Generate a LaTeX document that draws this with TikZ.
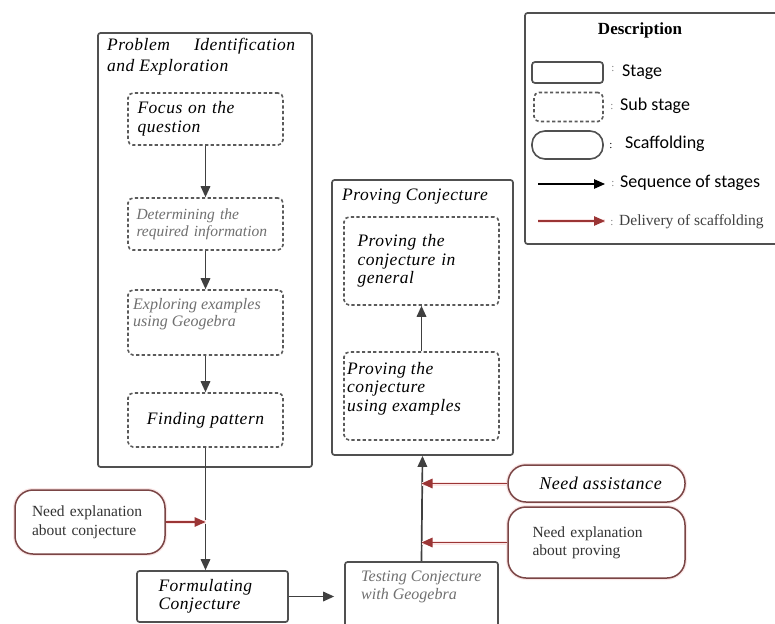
\documentclass[tikz,border=0pt]{standalone}
\usepackage{fontspec}
\setmainfont{Liberation Serif}
\newfontfamily\itf[LetterSpace=3]{Liberation Serif}
\newfontfamily\legf{Carlito}
\usetikzlibrary{arrows.meta}
\definecolor{lin}{HTML}{505050}
\definecolor{dsh}{HTML}{5A5A5A}
\definecolor{arr}{HTML}{404040}
\definecolor{gtxt}{HTML}{707070}
\definecolor{scafc}{HTML}{7A4545}
\definecolor{redarr}{HTML}{9B3535}
\definecolor{glow}{HTML}{FAE6E6}
\tikzset{
  stagebox/.style={draw=lin, line width=1.7pt, rounded corners=2.5pt, fill=white, inner sep=0pt},
  subbox/.style={draw=dsh, line width=1.6pt, dash pattern=on 3.2pt off 2.4pt, rounded corners=5pt, inner sep=0pt},
  scaf/.style={draw=scafc, line width=1.5pt, rounded corners=18pt, fill=white, inner sep=0pt,
     preaction={draw=glow, line width=4pt}},
  legscaf/.style={draw=lin, line width=1.6pt, rounded corners=13pt, fill=white, inner sep=0pt},
  seqarrow/.style={draw=arr, line width=1.7pt, -{Triangle[length=11pt,width=9.5pt]}},
  delarrow/.style={draw=redarr, line width=1.6pt, -{Triangle[length=11pt,width=9.5pt]}},
  glowline/.style={draw=glow, line width=4pt},
  itx/.style={font=\itf\itshape\fontsize{17.5}{18.5}\selectfont, align=left, inner sep=0pt},
  gtx/.style={font=\itshape\fontsize{15.5}{17}\selectfont, text=gtxt, align=left, inner sep=0pt},
  rtx/.style={font=\fontsize{15.5}{19}\selectfont, text=black!80, align=left, inner sep=0pt},
  legtx/.style={font=\legf\fontsize{18}{20}\selectfont, anchor=west, inner sep=0pt},
  colon/.style={font=\fontsize{11}{11}\selectfont, text=gray, inner sep=0pt},
}
\begin{document}
\begin{tikzpicture}[x=1pt,y=-1pt]
\useasboundingbox (0,0) rectangle (775,623);

% ---------- Problem identification stage ----------
\node[stagebox, minimum width=214pt, minimum height=434pt] (pie) at (205,250) {};
\node[itx, anchor=north west] (pietitle) at (107,38)
  {\makebox[188pt][l]{Problem\hfill Identification}\\[2pt]and Exploration};

\node[subbox, minimum width=155pt, minimum height=52pt] (s1) at (205.5,119) {};
\node[itx, text width=140pt] (s1t) at ([xshift=2pt]s1.center) {Focus on the\\question};

\node[subbox, minimum width=155pt, minimum height=52pt] (s2) at (205.5,224) {};
\node[gtx, text width=138pt] (s2t) at (s2.center) {Determining the\\required information};

\node[subbox, minimum width=155pt, minimum height=65pt] (s3) at (205.5,322.5) {};
\node[gtx, anchor=north west, font=\itshape\fontsize{16}{17}\selectfont] (s3t) at (133,298) {Exploring examples\\using Geogebra};

\node[subbox, minimum width=155pt, minimum height=54pt] (s4) at (205.5,420) {};
\node[itx] (s4t) at (s4.center) {Finding pattern};

\draw[seqarrow] (s1) -- (s2);
\draw[seqarrow] (s2) -- (s3);
\draw[seqarrow] (s3) -- (s4);

% ---------- Formulating & testing ----------
\node[stagebox, minimum width=151pt, minimum height=51pt] (form) at (212.5,596.5) {};
\node[itx, text width=104pt] (formt) at ([xshift=-2pt]form.center) {Formulating\\Conjecture};

\node[stagebox, minimum width=153pt, minimum height=70pt] (test) at (421.5,597) {};
\node[gtx, anchor=north west, font=\itshape\fontsize{16}{18}\selectfont] (testt) at (361,571) {Testing Conjecture\\with Geogebra};

\draw[seqarrow] (s4.south) -- (s4.south |- form.north);
\draw[seqarrow] (form.east) -- ([xshift=-10pt]test.west |- form.east);

% ---------- Proving stage ----------
\node[stagebox, minimum width=181pt, minimum height=275pt] (prov) at (422.5,317.5) {};
\node[itx, anchor=west] (provt) at (342,197) {Proving Conjecture};

\node[subbox, minimum width=155pt, minimum height=88pt] (pg) at (421.5,261) {};
\node[itx, text width=136pt] (pgt) at ([xshift=4pt]pg.center) {Proving the\\conjecture in\\general};

\node[subbox, minimum width=155pt, minimum height=88pt] (pe) at (421.5,396) {};
\node[itx, anchor=north west] (pet) at (347,362) {Proving the\\conjecture\\using examples};

\draw[seqarrow] (pe.north) -- (pg.south);
\draw[seqarrow] (test.north) -- (prov.south);

% ---------- Scaffolding ----------
\node[scaf, minimum width=150pt, minimum height=64pt] (sc1) at (90,522) {};
\node[rtx, text width=116pt] (sc1t) at (sc1.center) {Need explanation\\about conjecture};
\coordinate (m1) at (sc1.east -| s4.south);
\draw[glowline] (sc1.east) -- (m1);
\draw[delarrow] (sc1.east) -- (m1);

\node[scaf, minimum width=177pt, minimum height=37pt] (sc2) at (596.5,483.5) {};
\node[itx, font=\itf\itshape\fontsize{18}{18}\selectfont] (sc2t) at ([xshift=4pt]sc2.center) {Need assistance};
\coordinate (m2) at (sc2.west -| test.north);
\draw[glowline] (sc2.west) -- (m2);
\draw[delarrow] (sc2.west) -- (m2);

\node[scaf, minimum width=177pt, minimum height=71pt] (sc3) at (596.5,542.5) {};
\node[rtx, text width=120pt, font=\fontsize{15.5}{18}\selectfont] (sc3t) at ([xshift=-4pt]sc3.center) {Need explanation\\about proving};
\coordinate (m3) at (sc3.west -| test.north);
\draw[glowline] (sc3.west) -- (m3);
\draw[delarrow] (sc3.west) -- (m3);

% ---------- Legend ----------
\node[stagebox, minimum width=265pt, minimum height=231pt] (leg) at (657.5,128.5) {};
\node[font=\bfseries\fontsize{17}{18}\selectfont, inner sep=0pt] (legtitle) at (640,30) {Description};

\node[stagebox, minimum width=71pt, minimum height=21pt, rounded corners=3pt] (l1) at (567.5,72.5) {};
\node[colon] (c1) at (613,69) {:};
\node[legtx] (l1t) at (622,72) {Stage};

\node[subbox, minimum width=69pt, minimum height=29pt] (l2) at (568.5,107) {};
\node[colon] (c2) at (612,107) {:};
\node[legtx] (l2t) at (620,106) {Sub stage};

\node[legscaf, minimum width=71pt, minimum height=28pt] (l3) at (567.5,145) {};
\node[colon, text=black] (c3) at (611,146) {:};
\node[legtx] (l3t) at (625,144) {Scaffolding};

\coordinate (a1s) at (538,184);
\coordinate (a1e) at (605,184);
\draw[seqarrow, draw=black, line width=1.2pt] (a1s) -- (a1e);
\node[colon] (c4) at (613,184) {:};
\node[legtx] (l4t) at (620,183) {Sequence of stages};

\coordinate (a2s) at (538,221);
\coordinate (a2e) at (605,221);
\draw[glowline] (a2s) -- (a2e);
\draw[delarrow, line width=1.2pt] (a2s) -- (a2e);
\node[colon] (c5) at (612,223) {:};
\node[font=\fontsize{15.5}{17}\selectfont, anchor=west, inner sep=0pt, text=black!75] (l5t) at (619,222) {Delivery of scaffolding};
\end{tikzpicture}
\end{document}
